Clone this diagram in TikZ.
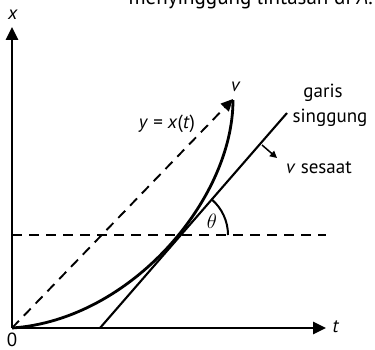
\documentclass[tikz,border=0pt]{standalone}
\usepackage{fontspec}
\setmainfont{PT Sans}
\usetikzlibrary{arrows.meta}
\begin{document}
\begin{tikzpicture}[x=1pt,y=-1pt,
  lbl/.style={font=\fontsize{19}{21}\selectfont, inner sep=0pt},
  axis/.style={line width=2.8pt, -{Triangle[length=13pt,width=12pt]}},
  dsh/.style={line width=1.9pt, dash pattern=on 10pt off 7pt},
  thin/.style={line width=2.1pt}]
\useasboundingbox (0,0) rectangle (375,350);
\begin{scope}
\clip (0,0) rectangle (375,350);
\node[inner sep=0pt, font=\fontsize{21}{23}\selectfont, anchor=base east] (cap) at (373,5) {menyinggung lintasan di \textit{A}.};
\end{scope}
\coordinate (O) at (12,328);
\coordinate (Yt) at (12,27);
\coordinate (Xt) at (326,328);
\coordinate (Top) at (233,99);
\coordinate (T0) at (100,328);
\coordinate (T1) at (287,113);
\coordinate (H0) at (12,235);
\coordinate (H1) at (326,235);
\coordinate (C) at (181,235);
\coordinate (S0) at (262,145);
\coordinate (S1) at (277,158);
% dashed horizontal
\draw[dsh] (H0) -- (H1);
% dashed diagonal
\draw[dsh, -{Triangle[length=12pt,width=11pt]}] (O) -- (Top);
% tangent
\draw[thin] (T0) -- (T1);
% curve
\draw[line width=2.8pt] (O) .. controls (130,320) and (233,200) .. (233,100);
% axes
\draw[axis] (O) -- (Yt);
\draw[axis] (O) -- (Xt);
% angle
\draw[line width=2pt] ([shift={(47,0)}]C) arc[start angle=0, end angle=-49, radius=47];
\draw[line width=1.5pt, -{Triangle[length=7pt,width=7pt]}] (S0) -- (S1);
% labels
\node[lbl] (lx) at (13,15) {\textit{x}};
\node[lbl] (lt) at (336,327) {\textit{t}};
\node[lbl] (l0) at (12,340) {0};
\node[lbl] (lv) at (236,87) {\textit{v}};
\node[lbl] (lg) at (323,93) {garis};
\node[lbl] (ls) at (330,118) {singgung};
\node[lbl] (ly) at (167,124) {\textit{y} = \textit{x}(\textit{t})};
\node[lbl] (lvs) at (319,168) {\textit{v} sesaat};
\node[inner sep=0pt, font=\fontsize{20}{22}\selectfont] (th) at (212,221) {$\theta$};
\end{tikzpicture}
\end{document}
